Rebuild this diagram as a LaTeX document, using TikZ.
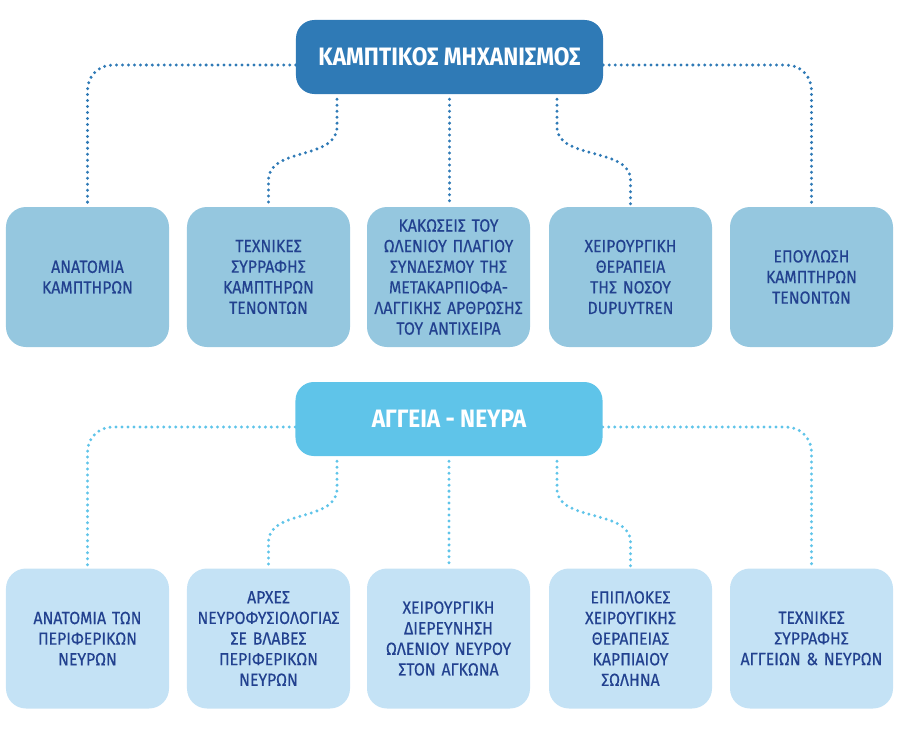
\documentclass[tikz,border=0pt]{standalone}
\usepackage{fontspec}
\setmainfont{Fira Sans}[FakeStretch=0.9]
\newfontfamily\boxfont{Fira Sans}[FakeStretch=0.9, FakeBold=0.4]
\usepackage[HTML]{xcolor}
\usetikzlibrary{positioning, calc}
\definecolor{darkhead}{HTML}{2F7AB6}
\definecolor{lighthead}{HTML}{5FC4E9}
\definecolor{topbox}{HTML}{95C7DF}
\definecolor{botbox}{HTML}{C4E2F5}
\definecolor{boxtext}{HTML}{22418F}

\begin{document}
\begin{tikzpicture}[x=0.03cm, y=-0.03cm,
  head/.style={rounded corners=0.55cm, minimum width=9.21cm, minimum height=2.22cm, text=white, font=\fontsize{21.5}{24}\selectfont\bfseries},
  box/.style={rounded corners=0.6cm, minimum width=4.89cm, minimum height=4.2cm, text width=4.85cm, inner sep=0pt, align=center, text=boxtext, font=\boxfont\fontsize{15}{17.6}\selectfont},
  conn/.style={line width=2.8pt, line cap=round, dash pattern=on 0pt off 5.1pt}]
\useasboundingbox (0,0) rectangle (900,728);
% first group
\node[head, fill=darkhead] (kampt) at (449.5,57) {ΚΑΜΠΤΙΚΟΣ ΜΗΧΑΝΙΣΜΟΣ};
\node[box, fill=topbox] (anat) at (87.5,277) {ΑΝΑΤΟΜΙΑ\\ΚΑΜΠΤΗΡΩΝ};
\node[box, fill=topbox] (teches) at (268.5,277) {ΤΕΧΝΙΚΕΣ\\ΣΥΡΡΑΦΗΣ\\ΚΑΜΠΤΗΡΩΝ\\ΤΕΝΟΝΤΩΝ};
\node[box, fill=topbox] (kakos) at (448.5,277) {ΚΑΚΩΣΕΙΣ ΤΟΥ\\ΩΛΕΝΙΟΥ ΠΛΑΓΙΟΥ\\ΣΥΝΔΕΣΜΟΥ ΤΗΣ\\ΜΕΤΑΚΑΡΠΙΟΦΑ-\\ΛΑΓΓΙΚΗΣ ΑΡΘΡΩΣΗΣ\\ΤΟΥ ΑΝΤΙΧΕΙΡΑ};
\node[box, fill=topbox] (dupuy) at (630.5,277) {ΧΕΙΡΟΥΡΓΙΚΗ\\ΘΕΡΑΠΕΙΑ\\ΤΗΣ ΝΟΣΟΥ\\DUPUYTREN};
\node[box, fill=topbox] (epoul) at (811.5,277) {ΕΠΟΥΛΩΣΗ\\ΚΑΜΠΤΗΡΩΝ\\ΤΕΝΟΝΤΩΝ};
% first group links
\begin{scope}[darkhead]
\draw[conn, rounded corners=0.75cm] ([yshift=-0.24cm]kampt.west) -| (anat.north);
\draw[conn, rounded corners=0.75cm] ([yshift=-0.24cm]kampt.east) -| (epoul.north);
\draw[conn, shorten <=0.15cm] (kampt.south) -- (kampt.south |- kakos.north);
\draw[conn, shorten <=0.15cm] ([xshift=-3.375cm]kampt.south) -- (337,127) .. controls (337,160) and (268.5,147) .. (268.5,180) -- (teches.north);
\draw[conn, shorten <=0.15cm] ([xshift=3.225cm]kampt.south) -- (557,127) .. controls (557,160) and (630.5,147) .. (630.5,180) -- (dupuy.north);
\end{scope}
% second group
\node[head, fill=lighthead] (aggeia) at (449,419) {ΑΓΓΕΙΑ - ΝΕΥΡΑ};
\node[box, fill=botbox] (anatn) at (87.5,638.5) {ΑΝΑΤΟΜΙΑ ΤΩΝ\\ΠΕΡΙΦΕΡΙΚΩΝ\\ΝΕΥΡΩΝ};
\node[box, fill=botbox] (arches) at (268.5,638.5) {ΑΡΧΕΣ\\ΝΕΥΡΟΦΥΣΙΟΛΟΓΙΑΣ\\ΣΕ ΒΛΑΒΕΣ\\ΠΕΡΙΦΕΡΙΚΩΝ\\ΝΕΥΡΩΝ};
\node[box, fill=botbox] (dierev) at (448.5,638.5) {ΧΕΙΡΟΥΡΓΙΚΗ\\ΔΙΕΡΕΥΝΗΣΗ\\ΩΛΕΝΙΟΥ ΝΕΥΡΟΥ\\ΣΤΟΝ ΑΓΚΩΝΑ};
\node[box, fill=botbox] (epipl) at (630.5,638.5) {ΕΠΙΠΛΟΚΕΣ\\ΧΕΙΡΟΥΓΙΚΗΣ\\ΘΕΡΑΠΕΙΑΣ\\ΚΑΡΠΙΑΙΟΥ\\ΣΩΛΗΝΑ};
\node[box, fill=botbox] (syrr) at (811.5,638.5) {ΤΕΧΝΙΚΕΣ\\ΣΥΡΡΑΦΗΣ\\ΑΓΓΕΙΩΝ \& ΝΕΥΡΩΝ};
% second group links
\begin{scope}[lighthead]
\draw[conn, rounded corners=0.75cm] ([yshift=-0.24cm]aggeia.west) -| (anatn.north);
\draw[conn, rounded corners=0.75cm] ([yshift=-0.24cm]aggeia.east) -| (syrr.north);
\draw[conn, shorten <=0.15cm] (aggeia.south) -- (aggeia.south |- dierev.north);
\draw[conn, shorten <=0.15cm] ([xshift=-3.36cm]aggeia.south) -- (337,489) .. controls (337,522) and (268.5,509) .. (268.5,542) -- (arches.north);
\draw[conn, shorten <=0.15cm] ([xshift=3.24cm]aggeia.south) -- (557,489) .. controls (557,522) and (630.5,509) .. (630.5,542) -- (epipl.north);
\end{scope}
\end{tikzpicture}
\end{document}
